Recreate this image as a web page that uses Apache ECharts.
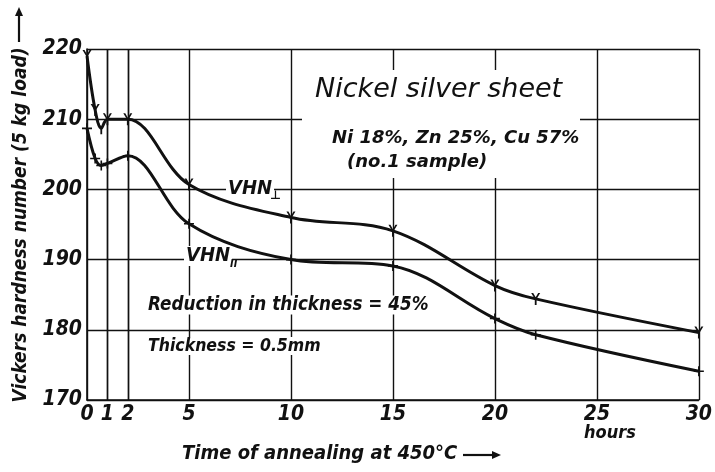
<!DOCTYPE html>
<html><head><meta charset="utf-8">
<script src="https://cdn.jsdelivr.net/npm/echarts@6/dist/echarts.min.js"></script>
<style>html,body{margin:0;padding:0;background:#fff}#c{width:715px;height:472px}</style>
</head><body><div id="c"></div>
<script>
const hours = [0, 0.4, 0.7, 1, 2, 5, 10, 15, 20, 22, 30];
const vhnPerp = [219, 211.3, 208.7, 210, 210, 200.7, 196, 194.1, 186.3, 184.4, 179.6];
const vhnPar = [208.7, 204.4, 203.4, 203.7, 204.8, 195.1, 190, 189.1, 181.6, 179.3, 174.1];
const xTicks = [0, 1, 2, 5, 10, 15, 20, 25, 30];
const yTicks = [170, 180, 190, 200, 210, 220];

const FONT = '"DejaVu Sans Condensed", "DejaVu Sans", sans-serif';
const WIDE = '"DejaVu Sans", sans-serif';
const INK = '#111';
const Y_SYM = 'path://M0,0 L2.2,0 L5,5.2 L7.8,0 L10,0 L6,7 L6,14 L4,14 L4,7 Z';
const PLUS_SYM = 'path://M4.2,0 H5.8 V4.2 H10 V5.8 H5.8 V10 H4.2 V5.8 H0 V4.2 H4.2 Z';

const chart = echarts.init(document.getElementById('c'), null, {renderer: 'canvas'});

function txt(text, x, y, font, opts) {
  return Object.assign({
    type: 'text', z: 1, x: x, y: y,
    style: Object.assign({
      text: text, fill: INK, font: font,
      textAlign: 'left', textVerticalAlign: 'middle',
      backgroundColor: '#fff', padding: [0, 2]
    }, opts || {})
  });
}
function arrow(x1, y1, x2, y2) {
  const a = Math.atan2(y2 - y1, x2 - x1), L = 9, W = 4;
  const bx = x2 - L * Math.cos(a), by = y2 - L * Math.sin(a);
  const nx = -Math.sin(a) * W, ny = Math.cos(a) * W;
  return [
    {type: 'line', z: 1, shape: {x1: x1, y1: y1, x2: bx, y2: by}, style: {stroke: INK, lineWidth: 2.2}},
    {type: 'polygon', z: 1, shape: {points: [[x2, y2], [bx + nx, by + ny], [bx - nx, by - ny]]}, style: {fill: INK}}
  ];
}

const option = {
  backgroundColor: '#fff',
  animation: false,
  grid: {left: 87, right: 9, top: 49, bottom: 72},
  xAxis: {
    type: 'value', min: 0, max: 30, interval: 5, z: 0,
    axisLine: {show: true, onZero: false, lineStyle: {color: INK, width: 1.6}},
    axisTick: {show: false, customValues: xTicks},
    splitLine: {show: true, lineStyle: {color: INK, width: 1.4}},
    axisLabel: {
      customValues: xTicks, color: INK, margin: 4,
      fontFamily: FONT, fontStyle: 'italic', fontWeight: 'bold', fontSize: 21
    }
  },
  yAxis: {
    type: 'value', min: 170, max: 220, interval: 10, z: 0,
    axisLine: {show: true, lineStyle: {color: INK, width: 1.6}},
    axisTick: {show: false},
    splitLine: {show: true, lineStyle: {color: INK, width: 1.4}},
    axisLabel: {
      color: INK, margin: 5,
      fontFamily: FONT, fontStyle: 'italic', fontWeight: 'bold', fontSize: 21
    }
  },
  graphic: [
    {type: 'rect', z: 1, shape: {x: 302, y: 70, width: 278, height: 108}, style: {fill: '#fff'}},
    txt('Nickel silver sheet', 313, 90, 'italic 27px ' + WIDE),
    txt('Ni 18%, Zn 25%, Cu 57%', 330, 138, 'italic bold 18px ' + WIDE),
    txt('(no.1 sample)', 345, 162, 'italic bold 18px ' + WIDE),
    txt('VHN', 226, 189, 'italic bold 20px ' + FONT),
    txt('\u22A5', 268, 196, 'bold 12px ' + WIDE, {backgroundColor: null}),
    txt('VHN', 184, 256, 'italic bold 20px ' + FONT),
    txt('II', 228, 264, 'italic bold 11px ' + FONT, {backgroundColor: null}),
    txt('Reduction in thickness = 45%', 146, 305, 'italic bold 18.7px ' + FONT),
    txt('Thickness = 0.5mm', 146, 346, 'italic bold 17.5px ' + FONT),
    txt('hours', 582, 433, 'italic bold 18px ' + FONT, {backgroundColor: null}),
    txt('Time of annealing at 450\u00B0C', 180, 454, 'italic bold 20px ' + FONT, {backgroundColor: null}),
    ...arrow(463, 455, 501, 455),
    {
      type: 'text', z: 1, x: 21, y: 225, rotation: Math.PI / 2,
      style: {
        text: 'Vickers hardness number (5 kg load)', fill: INK,
        font: 'italic bold 19px ' + FONT, textAlign: 'center', textVerticalAlign: 'middle'
      }
    },
    ...arrow(19, 42, 19, 7)
  ],
  series: [
    {
      name: 'VHN perp', type: 'line', z: 3, smooth: 0.35,
      data: hours.map((h, i) => [h, vhnPerp[i]]),
      symbol: Y_SYM, symbolSize: [9, 12], showSymbol: true,
      itemStyle: {color: INK},
      lineStyle: {color: INK, width: 3}
    },
    {
      name: 'VHN par', type: 'line', z: 3, smooth: 0.35,
      data: hours.map((h, i) => [h, vhnPar[i]]),
      symbol: PLUS_SYM, symbolSize: 10, showSymbol: true,
      itemStyle: {color: INK},
      lineStyle: {color: INK, width: 3},
      markLine: {
        silent: true, symbol: 'none', label: {show: false}, z: 0,
        lineStyle: {color: INK, width: 1.4, type: 'solid'},
        data: [{xAxis: 1}, {xAxis: 2}]
      }
    }
  ]
};
chart.setOption(option);
</script></body></html>
